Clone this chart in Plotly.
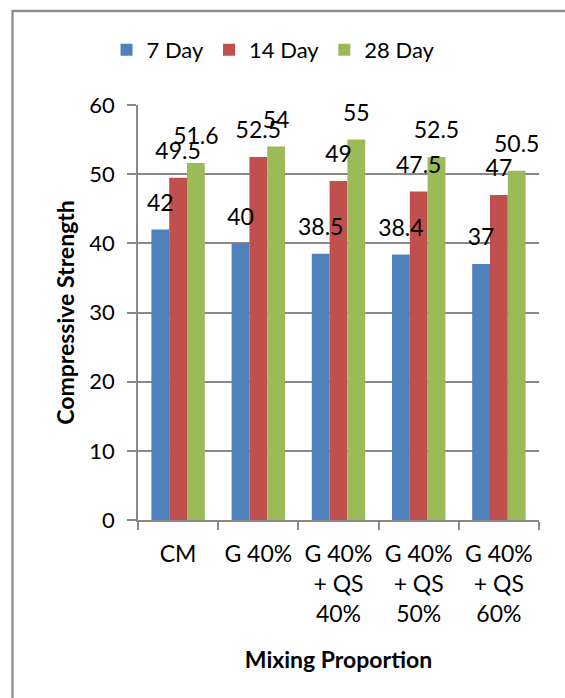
import plotly.graph_objects as go

categories = ["CM", "G 40%", "G 40%<br>+ QS<br>40%", "G 40%<br>+ QS<br>50%", "G 40%<br>+ QS<br>60%"]
series_names = ["7 Day", "14 Day", "28 Day"]
day7 = [42, 40, 38.5, 38.4, 37]
day14 = [49.5, 52.5, 49, 47.5, 47]
day28 = [51.6, 54, 55, 52.5, 50.5]
colors = ["#4F81BD", "#C0504D", "#9BBB59"]

FONT = "Lato, 'Open Sans', sans-serif"
GRID = "#898989"

fig = go.Figure()
for name, vals, col in zip(series_names, [day7, day14, day28], colors):
    fig.add_trace(go.Bar(
        x=categories, y=vals, name=name, marker=dict(color=col, line=dict(width=0)),
        offsetgroup=name, alignmentgroup="a", hoverinfo="skip",
    ))
for name, vals in zip(series_names, [day7, day14, day28]):
    fig.add_trace(go.Scatter(
        x=categories, y=vals, mode="markers+text", text=[f"{v:g}" for v in vals],
        textposition="top center", textfont=dict(family=FONT, size=23, color="#000"),
        marker=dict(size=19, opacity=0), offsetgroup=name, alignmentgroup="a",
        showlegend=False, hoverinfo="skip", cliponaxis=False,
    ))

fig.update_layout(
    width=565, height=698,
    margin=dict(l=138, r=26, t=105, b=178),
    paper_bgcolor="white", plot_bgcolor="white",
    barmode="group", bargap=0.334, bargroupgap=0,
    scattermode="group", scattergap=0.334,
    font=dict(family=FONT, size=22, color="#000"),
    legend=dict(orientation="h", x=0.338, xanchor="center", y=1.1325, yanchor="middle",
                font=dict(size=22), itemwidth=30, tracegroupgap=0),
    showlegend=True,
    xaxis=dict(
        type="category", showgrid=False, showline=True, linecolor=GRID, linewidth=1.5,
        ticks="outside", ticklen=8, tickcolor=GRID, tickwidth=1.5, tickson="boundaries",
        tickfont=dict(size=23), ticklabelstandoff=13,
        title=dict(text="<b>Mixing Proportion</b>", font=dict(size=23), standoff=26),
    ),
    yaxis=dict(
        range=[0, 60], dtick=10, showgrid=True, gridcolor=GRID, gridwidth=1.5,
        showline=True, linecolor=GRID, linewidth=1.5, zeroline=False,
        ticks="outside", ticklen=9, tickcolor=GRID, tickwidth=1.5,
        tickfont=dict(size=22), ticklabelstandoff=8,
        title=dict(text="<b>Compressive Strength</b>", font=dict(size=23), standoff=8),
    ),
    shapes=[dict(type="rect", xref="paper", yref="paper",
                 x0=-0.313, x1=2.0, y0=-2.0, y1=1.2265,
                 line=dict(color="#8C8C8C", width=2.3), fillcolor="rgba(0,0,0,0)", layer="below")],
)

fig.write_html("out.html")
